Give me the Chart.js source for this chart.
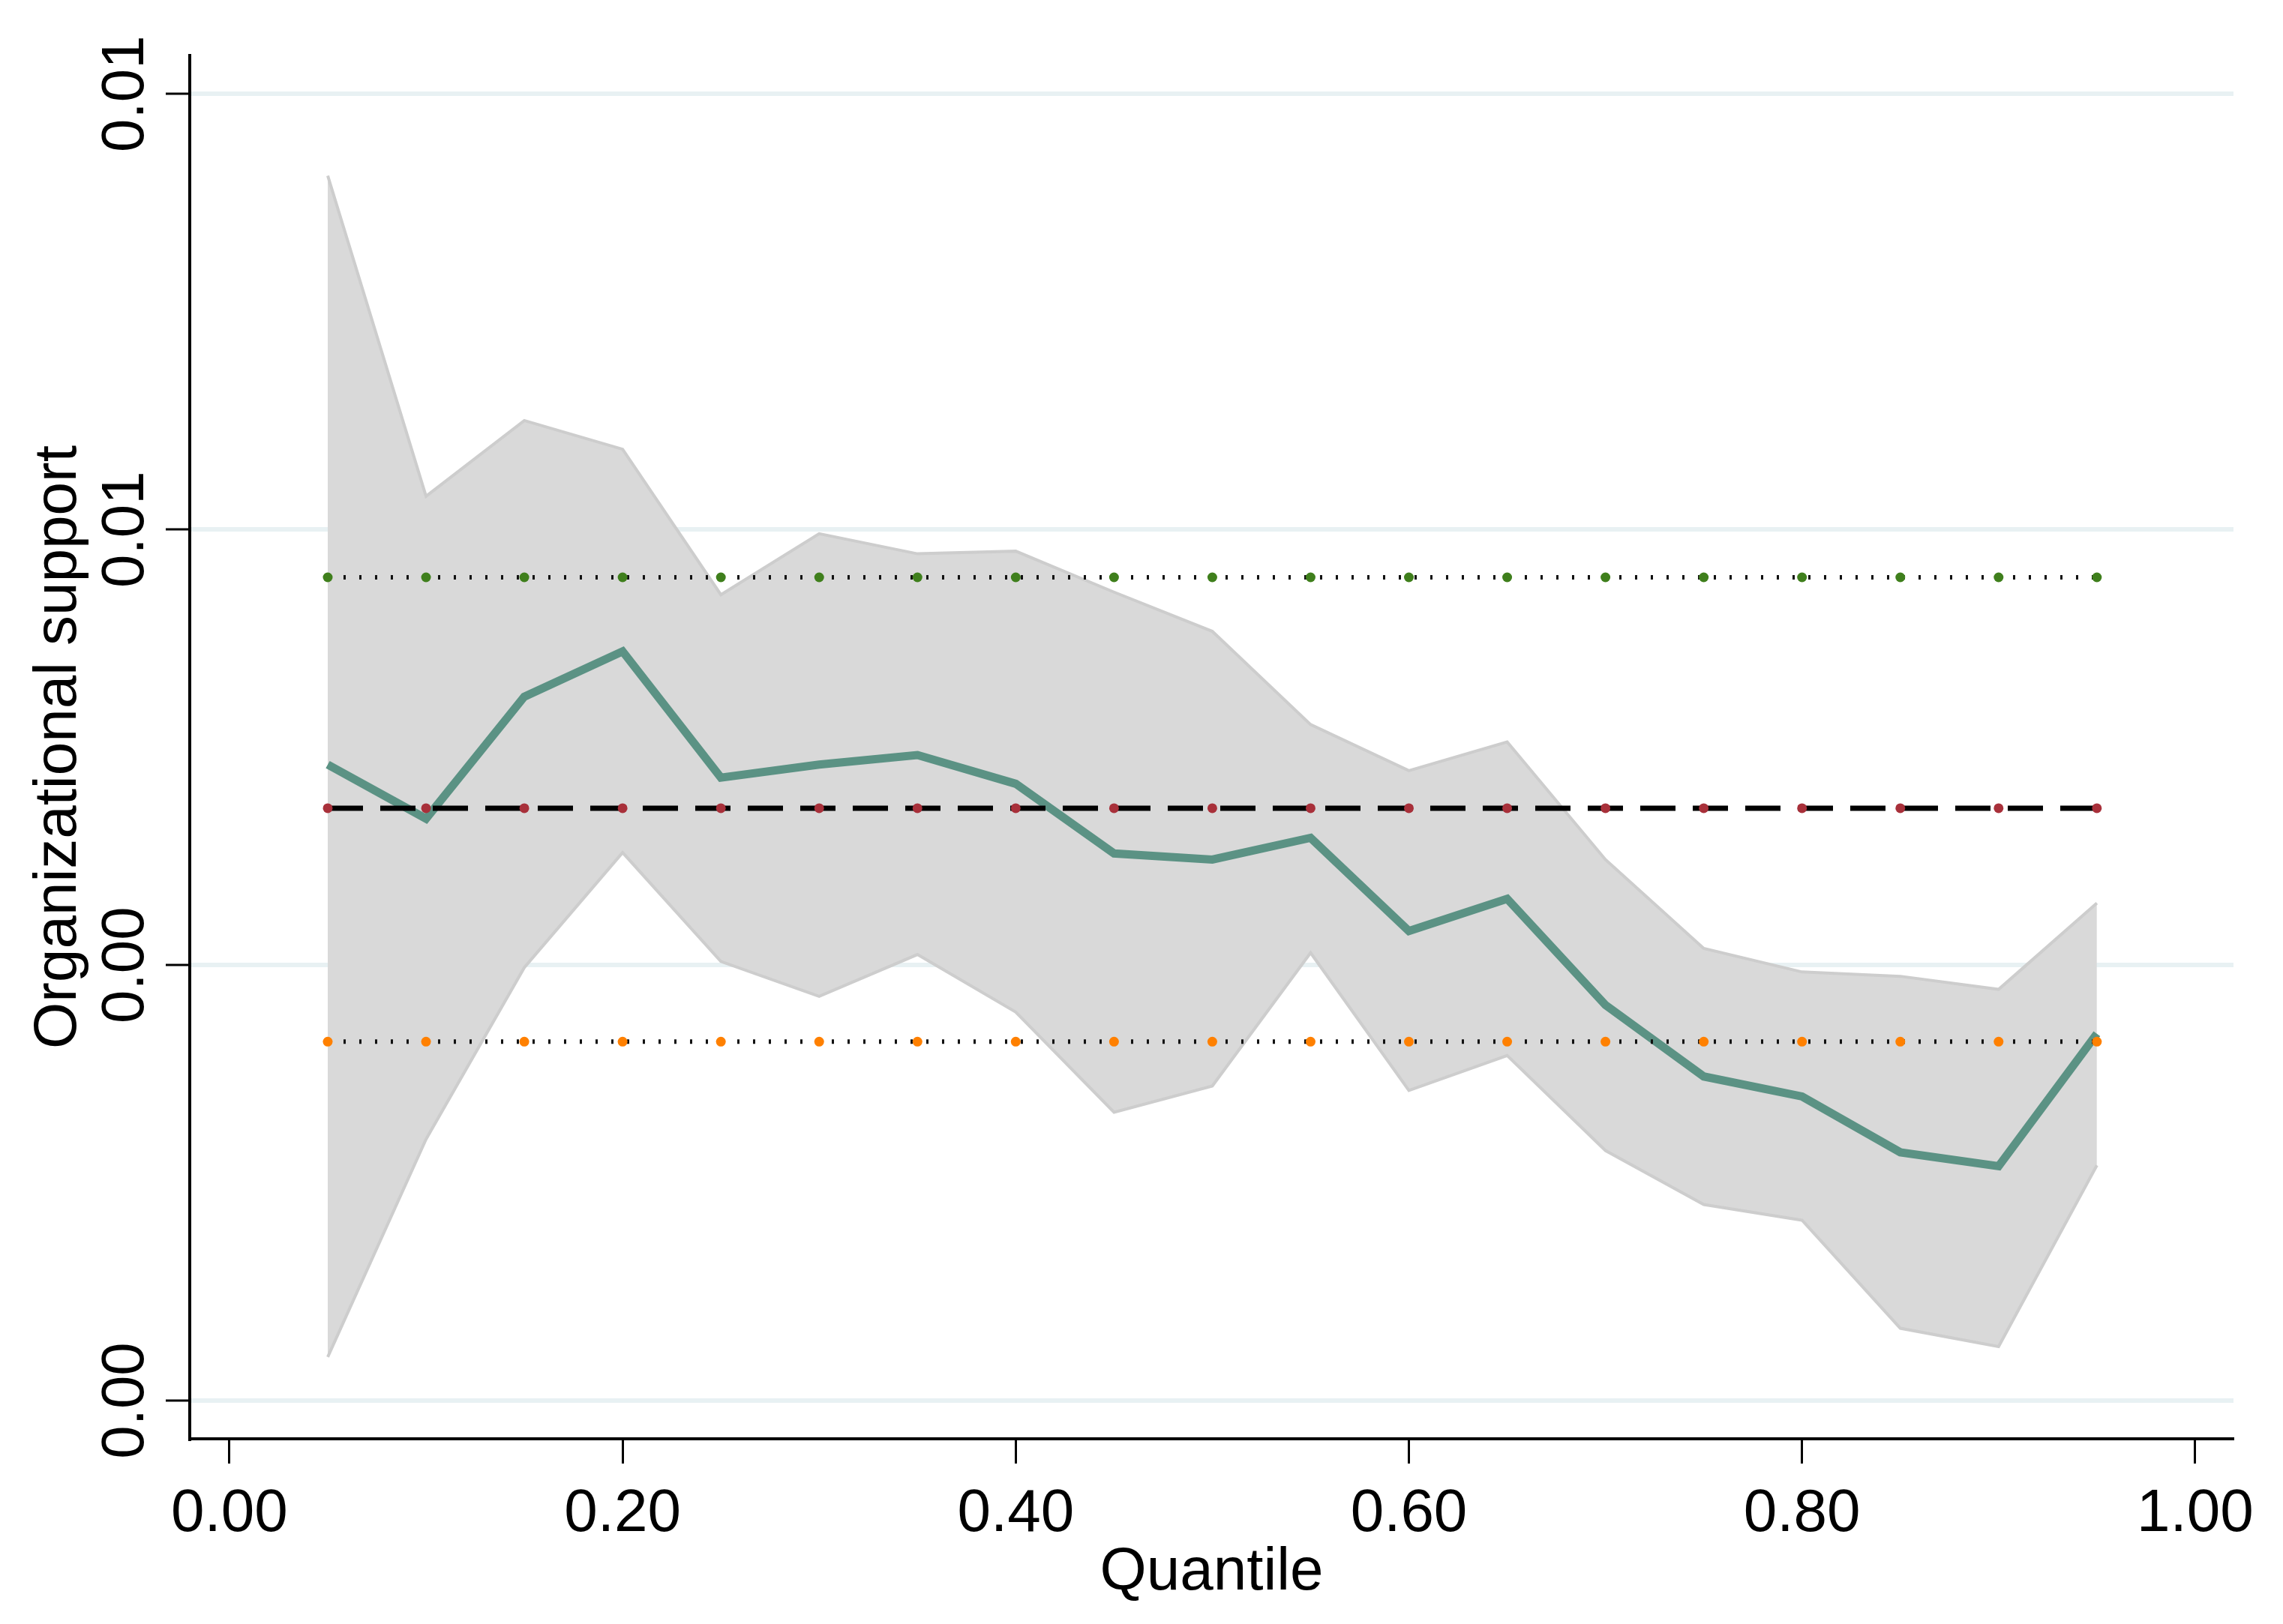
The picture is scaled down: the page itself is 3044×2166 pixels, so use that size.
<!DOCTYPE html>
<html>
<head>
<meta charset="utf-8">
<script src="https://cdn.jsdelivr.net/npm/chart.js@4/dist/chart.umd.min.js"></script>
<style>
  html, body { margin: 0; padding: 0; background: #fff; }
  canvas { display: block; }
</style>
</head>
<body>
<canvas id="quantileChart" width="3044" height="2166"></canvas>
<script>
// Quantile regression coefficients for organizational support
const quantiles = [0.05, 0.10, 0.15, 0.20, 0.25, 0.30, 0.35, 0.40, 0.45, 0.50,
                   0.55, 0.60, 0.65, 0.70, 0.75, 0.80, 0.85, 0.90, 0.95];
const estimate = [0.00730, 0.00668, 0.00808, 0.00860, 0.00715, 0.00730, 0.00741, 0.00708, 0.00628, 0.00621,
                  0.00646, 0.00539, 0.00576, 0.00454, 0.00372, 0.00349, 0.00285, 0.00269, 0.00421];
const ciUpper = [0.01406, 0.01038, 0.01125, 0.01092, 0.00925, 0.00995, 0.00972, 0.00975, 0.00928, 0.00883,
                 0.00776, 0.00723, 0.00756, 0.00621, 0.00519, 0.00492, 0.00487, 0.00472, 0.00571];
const ciLower = [0.00050, 0.00300, 0.00497, 0.00629, 0.00504, 0.00464, 0.00512, 0.00446, 0.00331, 0.00361,
                 0.00514, 0.00356, 0.00396, 0.00287, 0.00225, 0.00207, 0.00083, 0.00062, 0.00270];
// OLS estimate and its confidence interval
const olsUpper = 0.00945;
const olsEstimate = 0.00680;
const olsLower = 0.00412;

const xTickValues = [0, 0.2, 0.4, 0.6, 0.8, 1.0];
const xTickLabels = ['0.00', '0.20', '0.40', '0.60', '0.80', '1.00'];
const yTickValues = [0, 0.005, 0.010, 0.015];
const yTickLabels = ['0.00', '0.00', '0.01', '0.01'];

const FONT = 'Liberation Sans, Arial, Helvetica, sans-serif';

const pts = arr => quantiles.map((q, i) => ({ x: q, y: arr[i] }));
const flat = v => quantiles.map(q => ({ x: q, y: v }));

// rotated y tick labels, as in the original
const yLabelPlugin = {
  id: 'yLabels',
  afterDraw(chart) {
    const ys = chart.scales.y;
    const ctx = chart.ctx;
    ctx.save();
    ctx.fillStyle = '#000';
    ctx.font = '80px ' + FONT;
    ctx.textAlign = 'center';
    ctx.textBaseline = 'alphabetic';
    yTickValues.forEach((v, i) => {
      ctx.save();
      ctx.translate(ys.right - 62, ys.getPixelForValue(v));
      ctx.rotate(-Math.PI / 2);
      ctx.fillText(yTickLabels[i], 0, 0);
      ctx.restore();
    });
    ctx.restore();
  }
};

new Chart(document.getElementById('quantileChart'), {
  type: 'line',
  data: {
    datasets: [
      {
        label: 'upper',
        data: pts(ciUpper),
        borderColor: '#cdcdcd',
        borderWidth: 4,
        backgroundColor: '#d9d9d9',
        fill: '+1',
        pointRadius: 0,
        order: 10
      },
      {
        label: 'lower',
        data: pts(ciLower),
        borderColor: '#cdcdcd',
        borderWidth: 4,
        fill: false,
        pointRadius: 0,
        order: 9
      },
      {
        label: 'estimate',
        data: pts(estimate),
        borderColor: '#5b9284',
        borderWidth: 11,
        fill: false,
        pointRadius: 0,
        order: 5
      },
      {
        label: 'ols upper',
        data: flat(olsUpper),
        borderColor: '#111',
        borderWidth: 6,
        borderDash: [3, 18],
        fill: false,
        pointRadius: 6.5,
        pointBorderWidth: 0,
        pointBackgroundColor: '#3f7f1c',
        order: 1
      },
      {
        label: 'ols',
        data: flat(olsEstimate),
        borderColor: '#000',
        borderWidth: 7,
        borderDash: [47, 23],
        fill: false,
        pointRadius: 6.5,
        pointBorderWidth: 0,
        pointBackgroundColor: '#a8303a',
        order: 1
      },
      {
        label: 'ols lower',
        data: flat(olsLower),
        borderColor: '#111',
        borderWidth: 6,
        borderDash: [3, 18],
        fill: false,
        pointRadius: 6.5,
        pointBorderWidth: 0,
        pointBackgroundColor: '#ff8000',
        order: 1
      }
    ]
  },
  options: {
    responsive: false,
    animation: false,
    devicePixelRatio: 1,
    layout: { padding: { left: 0, top: 74, right: 66, bottom: 0 } },
    elements: { line: { tension: 0 } },
    plugins: {
      legend: { display: false },
      tooltip: { enabled: false }
    },
    scales: {
      x: {
        type: 'linear',
        min: -0.0202,
        max: 1.0195,
        afterBuildTicks: s => { s.ticks = xTickValues.map(v => ({ value: v })); },
        afterFit: s => { s.height = 247; },
        ticks: {
          callback: (v, i) => xTickLabels[i],
          color: '#000',
          font: { family: FONT, size: 80 },
          padding: 20,
          maxRotation: 0,
          autoSkip: false
        },
        grid: {
          drawOnChartArea: false,
          tickLength: 33,
          tickColor: '#000',
          tickWidth: 3
        },
        border: { color: '#000', width: 4 },
        title: {
          display: true,
          text: 'Quantile',
          color: '#000',
          font: { family: FONT, size: 80 },
          padding: { top: 0, bottom: 20 }
        }
      },
      y: {
        type: 'linear',
        min: -0.000439,
        max: 0.01544,
        afterBuildTicks: s => { s.ticks = yTickValues.map(v => ({ value: v })); },
        afterFit: s => { s.width = 253; },
        ticks: { display: false },
        grid: {
          color: '#e8f1f3',
          lineWidth: 6,
          tickLength: 32,
          tickColor: '#000',
          tickWidth: 3
        },
        border: { color: '#000', width: 4 },
        title: {
          display: true,
          text: 'Organizational support',
          color: '#000',
          font: { family: FONT, size: 80 },
          padding: { top: 31, bottom: 0 }
        }
      }
    }
  },
  plugins: [yLabelPlugin]
});
</script>
</body>
</html>
